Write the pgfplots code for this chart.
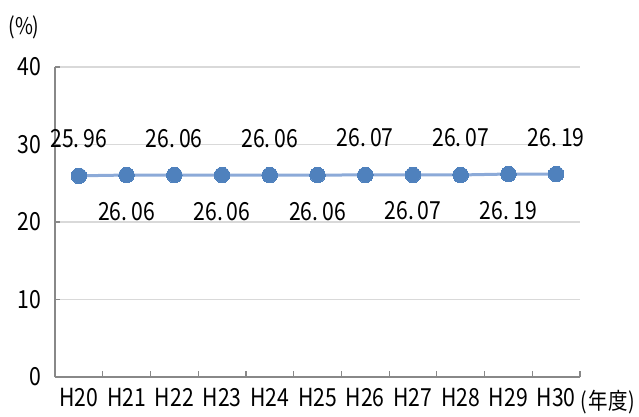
\documentclass[border=0pt]{standalone}
\usepackage{pgfplots}
\pgfplotsset{compat=1.18}
\usepackage{fontspec}
\setmainfont[FakeStretch=0.85]{Noto Sans CJK JP}
\definecolor{lineblue}{HTML}{8CAAD8}
\definecolor{markblue}{HTML}{4F81BD}
\definecolor{axgray}{HTML}{888888}
\definecolor{gridgray}{HTML}{D9D9D9}
\begin{document}
\begin{tikzpicture}[x=1bp,y=1bp]
\useasboundingbox (0,0) rectangle (639,416);
\begin{axis}[
  at={(55bp,39bp)}, anchor=south west,
  scale only axis, width=525bp, height=310bp,
  xmin=-0.5, xmax=10.5, ymin=0, ymax=40,
  axis x line*=bottom, axis y line*=left,
  axis line style={draw=axgray, line width=1.2bp, -},
  ytick={0,10,20,30,40},
  /pgf/number format/assume math mode=true,
  ymajorgrids, grid style={draw=gridgray, line width=1.2bp},
  xtick={0,...,10},
  xticklabels={H20,H21,H22,H23,H24,H25,H26,H27,H28,H29,H30},
  minor xtick={-0.5,0.5,...,10.5},
  tick align=inside,
  major x tick style={draw=none},
  minor x tick style={draw=axgray, line width=1.2bp},
  minor tick length=6bp,
  ytick style={draw=axgray, line width=1.2bp},
  major tick length=5bp,
  tick label style={font=\fontsize{25}{25}\selectfont},
  yticklabel style={xshift=-10bp},
  xticklabel style={yshift=-8bp},
  clip=false,
]
\addplot[draw=lineblue, line width=3bp, mark=*, mark size=7.8bp,
  mark options={fill=markblue, draw=markblue, line width=0pt}]
  coordinates {(0,25.96) (1,26.06) (2,26.06) (3,26.06) (4,26.06) (5,26.06)
               (6,26.07) (7,26.07) (8,26.07) (9,26.19) (10,26.19)};
\addplot[draw=none, nodes near coords, point meta=explicit symbolic,
  every node near coord/.style={anchor=base, yshift=28bp, inner sep=0pt,
  font=\fontsize{25}{25}\selectfont}]
  coordinates {(0,25.96)[25.\kern4bp 96] (2,26.06)[26.\kern4bp 06] (4,26.06)[26.\kern4bp 06]
               (6,26.07)[26.\kern4bp 07] (8,26.07)[26.\kern4bp 07] (10,26.19)[26.\kern4bp 19]};
\addplot[draw=none, nodes near coords, point meta=explicit symbolic,
  every node near coord/.style={anchor=base, yshift=-45bp, inner sep=0pt,
  font=\fontsize{25}{25}\selectfont}]
  coordinates {(1,26.06)[26.\kern4bp 06] (3,26.06)[26.\kern4bp 06] (5,26.06)[26.\kern4bp 06]
               (7,26.07)[26.\kern4bp 07] (9,26.19)[26.\kern4bp 19]};
\end{axis}
\node[font=\fontsize{23}{23}\selectfont, inner sep=0pt] at (24,389) {(\%)};
\node[font=\fontsize{23}{23}\selectfont, inner sep=0pt] at (608,14) {(\kern1bp 年度\kern1bp)};
\end{tikzpicture}
\end{document}
